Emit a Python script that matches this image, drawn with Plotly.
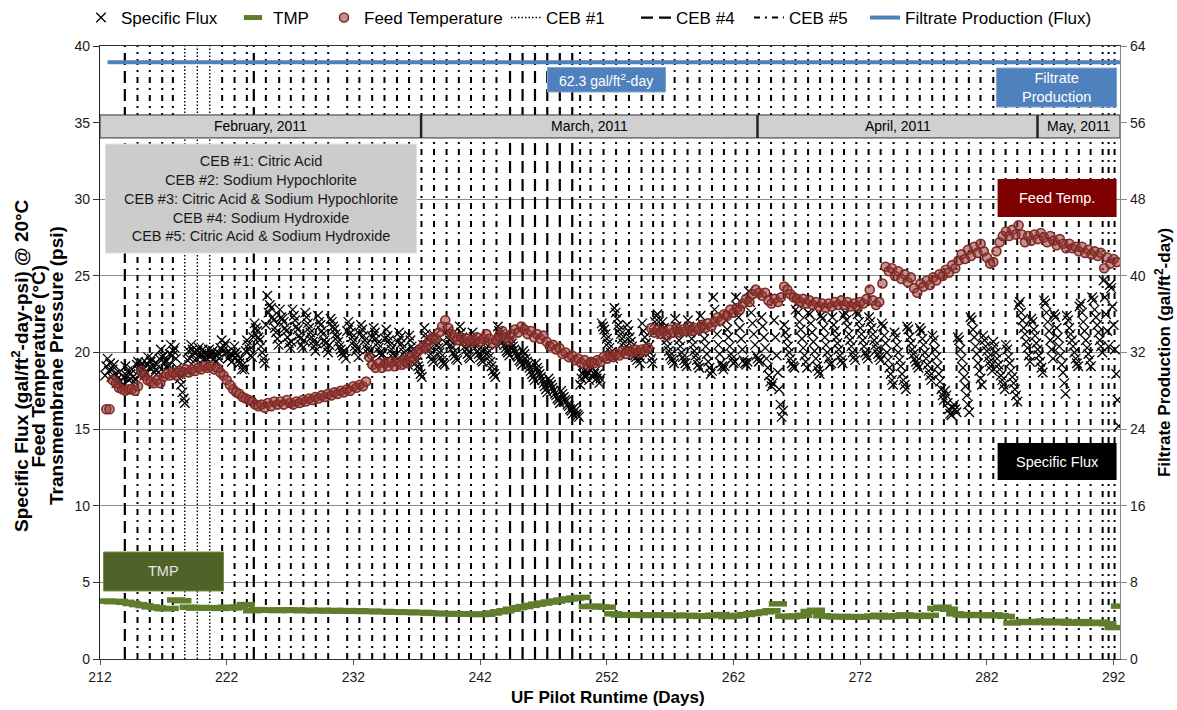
import numpy as np
import plotly.graph_objects as go

FONT = "Liberation Sans, Arial, sans-serif"

# ---------------- data ----------------
# Specific flux (gal/ft2-day-psi @ 20 C), one reading every 0.1 day from day 212.4
flux_start, flux_step = 212.4, 0.1
specific_flux = [
    18.5, 19.1, 19.6, 18.8, 19.3, 18.4, 18.9, 19.2, 18.6, 18.0,
    18.3, 18.7, 18.1, 17.8, 17.9, 18.4, 19.1, 18.5, 18.8, 18.2,
    18.6, 18.9, 18.4, 18.1, 18.3, 19.2, 19.4, 18.8, 19.1, 19.3,
    18.9, 18.5, 18.7, 19.3, 19.7, 19.0, 19.4, 19.6, 19.1, 18.7,
    18.9, 19.2, 18.7, 19.6, 20.2, 19.7, 19.8, 19.3, 19.5, 19.0,
    19.2, 19.9, 20.5, 19.8, 20.1, 20.3, 19.6, 19.0, 18.6, 18.3,
    17.9, 17.4, 17.0, 16.7, 18.8, 19.5, 20.1, 19.6, 20.5, 20.2,
    20.0, 19.5, 19.6, 20.1, 20.3, 19.7, 19.9, 20.2, 19.6, 19.9,
    19.6, 19.9, 20.2, 19.7, 19.9, 20.1, 19.6, 19.4, 19.8, 20.0,
    19.6, 20.3, 20.8, 20.1, 20.4, 20.6, 20.0, 19.6, 19.7, 19.9,
    19.4, 19.8, 20.4, 20.0, 19.8, 19.5, 19.3, 19.6, 18.9, 19.2,
    18.9, 20.1, 20.8, 20.5, 20.2, 19.8, 19.7, 21.0, 21.9, 21.6,
    21.4, 21.0, 20.8, 20.4, 20.0, 19.6, 19.3, 21.8, 23.7, 22.6,
    23.1, 22.9, 22.3, 22.1, 21.6, 21.3, 20.9, 20.5, 22.8, 22.3,
    22.2, 22.0, 21.6, 21.4, 21.0, 20.6, 20.3, 20.7, 22.8, 22.4,
    22.1, 21.7, 21.5, 21.1, 20.9, 20.5, 20.3, 20.8, 22.6, 22.3,
    21.9, 21.6, 21.3, 21.0, 20.7, 20.4, 20.1, 20.6, 22.4, 22.0,
    21.8, 21.4, 21.2, 20.8, 20.6, 20.3, 20.0, 20.5, 22.2, 22.0,
    21.7, 21.5, 21.2, 21.0, 20.7, 20.4, 20.2, 20.0, 19.8, 20.1,
    19.6, 21.4, 22.0, 21.7, 21.3, 21.0, 20.7, 20.4, 20.1, 20.3,
    19.7, 21.2, 21.8, 21.5, 21.1, 20.8, 20.5, 20.2, 19.9, 20.1,
    19.5, 21.0, 21.6, 21.3, 20.9, 20.6, 20.3, 20.0, 19.8, 19.9,
    19.4, 20.9, 21.5, 21.1, 20.8, 20.5, 20.2, 19.9, 19.6, 19.8,
    19.3, 20.7, 21.3, 21.0, 20.6, 20.3, 20.0, 19.7, 19.4, 19.2,
    21.1, 20.8, 20.4, 20.2, 19.9, 19.6, 19.4, 19.1, 18.9, 18.6,
    18.4, 20.5, 21.6, 21.2, 20.9, 20.5, 20.2, 19.9, 19.6, 19.4,
    21.1, 20.8, 20.5, 20.3, 20.0, 19.7, 19.5, 19.3, 19.2, 20.6,
    21.4, 21.1, 20.8, 20.5, 20.3, 20.0, 19.8, 19.6, 19.5, 20.9,
    21.7, 21.3, 21.0, 20.7, 20.4, 20.2, 19.9, 19.7, 19.6, 20.6,
    21.3, 21.0, 20.7, 20.4, 20.1, 19.9, 19.7, 19.5, 19.4, 20.1,
    20.6, 20.3, 20.0, 19.7, 19.4, 19.1, 18.8, 18.6, 18.4, 20.5,
    21.7, 21.4, 21.2, 20.9, 20.7, 20.5, 20.3, 20.1, 20.0, 19.8,
    20.9, 20.6, 20.4, 20.2, 20.0, 19.8, 19.7, 19.5, 19.4, 19.2,
    20.1, 19.9, 19.6, 19.4, 19.2, 19.0, 18.8, 18.6, 18.4, 18.2,
    19.3, 19.0, 18.8, 18.6, 18.4, 18.2, 18.0, 17.8, 17.6, 17.4,
    18.3, 18.1, 17.9, 17.7, 17.5, 17.3, 17.2, 17.0, 16.9, 16.7,
    17.5, 17.3, 17.1, 16.9, 16.8, 16.6, 16.5, 16.3, 16.2, 16.0,
    16.4, 16.2, 16.0, 15.9, 15.8, 17.9, 18.3, 18.6, 18.8, 18.4,
    18.5, 18.7, 18.2, 18.9, 19.0, 18.4, 18.6, 18.8, 18.3, 18.6,
    18.0, 18.3, 21.9, 21.7, 21.5, 21.2, 20.9, 20.6, 20.3, 20.0,
    19.8, 19.6, 22.9, 22.6, 22.2, 21.8, 21.5, 21.2, 20.9, 20.6,
    20.3, 20.0, 21.8, 21.4, 21.0, 20.7, 20.4, 20.1, 19.8, 19.7,
    19.5, 19.8, 19.3, 19.6, 21.9, 21.4, 21.0, 20.6, 20.2, 20.4,
    20.0, 19.6, 19.3, 21.3, 22.0, 22.4, 22.5, 22.0, 21.6, 21.2,
    22.0, 21.6, 21.2, 20.8, 20.4, 20.1, 19.8, 19.6, 19.5, 19.3,
    22.2, 21.7, 21.3, 20.8, 20.4, 20.0, 19.7, 19.5, 19.3, 19.1,
    22.1, 21.7, 21.3, 20.9, 20.5, 20.1, 19.8, 19.5, 19.2, 19.0,
    22.4, 21.9, 21.4, 20.9, 20.4, 19.9, 19.4, 19.0, 18.6, 18.8,
    23.6, 22.8, 22.0, 21.2, 20.5, 19.9, 19.3, 19.1, 18.9, 19.1,
    22.1, 21.5, 21.0, 20.4, 19.9, 19.6, 19.3, 19.4, 23.6, 23.0,
    22.3, 21.6, 20.9, 20.2, 19.5, 19.3, 19.2, 19.4, 24.0, 23.3,
    22.6, 21.9, 21.2, 20.5, 19.8, 19.6, 19.4, 19.5, 22.3, 21.7,
    21.0, 20.3, 19.6, 19.0, 18.5, 18.1, 17.8, 18.0, 22.1, 21.0,
    19.8, 18.7, 17.6, 16.6, 15.8, 16.2, 21.8, 21.3, 20.9, 20.4,
    20.0, 19.6, 19.3, 19.1, 19.0, 22.8, 23.2, 22.6, 22.0, 21.5,
    20.9, 20.3, 19.8, 19.4, 19.0, 22.6, 22.5, 21.9, 21.3, 20.7,
    20.1, 19.6, 19.1, 18.8, 18.6, 22.4, 22.2, 21.6, 21.0, 20.5,
    20.0, 19.6, 19.2, 19.3, 22.3, 21.8, 21.4, 21.0, 20.6, 20.2,
    19.8, 19.5, 19.3, 22.4, 22.6, 22.1, 21.7, 21.2, 20.8, 20.4,
    20.0, 19.7, 19.5, 22.7, 22.5, 22.0, 21.6, 21.2, 20.8, 20.4,
    20.0, 19.8, 19.6, 22.3, 22.0, 21.6, 21.2, 20.8, 20.5, 20.2,
    19.9, 19.7, 19.5, 21.9, 21.7, 21.1, 20.6, 20.0, 19.5, 19.0,
    18.6, 18.2, 17.9, 21.3, 21.0, 20.5, 20.0, 19.5, 19.1, 18.6,
    18.2, 17.9, 17.6, 21.7, 21.5, 21.0, 20.6, 20.2, 19.9, 19.6,
    19.4, 19.2, 19.0, 21.6, 21.4, 20.9, 20.5, 20.0, 19.6, 19.2,
    18.8, 18.5, 18.2, 21.1, 20.8, 20.2, 19.7, 19.1, 18.6, 18.1,
    17.6, 17.2, 16.9, 17.5, 17.2, 16.7, 16.3, 16.0, 15.9, 16.4,
    16.6, 16.3, 16.1, 21.0, 20.8, 20.2, 19.6, 19.0, 18.4, 17.8,
    17.2, 16.6, 16.1, 22.3, 22.1, 21.5, 21.0, 20.4, 19.9, 19.3,
    18.8, 18.3, 17.9, 21.1, 20.8, 20.4, 20.1, 19.7, 19.4, 19.1,
    18.8, 20.7, 20.4, 20.0, 19.6, 19.2, 18.9, 18.5, 18.2, 17.9,
    17.6, 20.5, 20.2, 19.7, 19.3, 18.8, 18.4, 18.0, 17.6, 17.2,
    16.8, 23.1, 23.3, 22.6, 22.1, 21.6, 21.2, 20.7, 20.3, 19.8,
    19.4, 22.2, 22.0, 21.5, 21.1, 20.6, 20.2, 19.8, 19.4, 19.0,
    18.7, 23.4, 23.2, 22.6, 22.0, 21.4, 20.8, 20.2, 19.6, 22.5,
    22.3, 21.6, 21.0, 20.4, 19.8, 19.2, 18.7, 18.0, 17.3, 22.4,
    22.1, 21.6, 21.2, 20.8, 20.4, 20.0, 19.6, 19.3, 19.1, 23.0,
    23.2, 22.6, 22.0, 21.4, 20.8, 20.3, 19.9, 19.5, 19.1, 23.6,
    23.4, 22.8, 22.3, 21.8, 21.3, 20.8, 20.4, 20.0, 24.7, 23.6,
    22.5, 21.4, 20.4, 24.4, 24.2, 23.0, 21.8, 20.2, 18.6, 16.9,
    15.2,
]

# Feed temperature (deg C), one reading every 0.25 day from day 212.5
temp_start, temp_step = 212.5, 0.25
feed_temp = [
    16.3, 16.3, 18.2, 18.0,  17.7, 17.6, 17.5, 17.6,  17.6, 17.5, 17.8, 18.8,
    18.5, 18.2, 18.1, 18.0,  18.2, 18.0, 18.4, 18.6,  18.5, 18.7, 18.5, 18.8,
    18.7, 18.9, 18.7, 18.9,  18.8, 19.0, 18.9, 19.1,  19.0, 19.1, 18.9, 19.0,
    18.7, 18.5, 18.2, 17.9,  17.6, 17.4, 17.3, 17.1,  17.0, 16.9, 16.8, 16.6,
    16.5, 16.6, 16.4, 16.7,  16.5, 16.8, 16.6, 16.8,  16.6, 16.9, 16.7, 16.6,
    16.8, 16.7, 16.9, 16.8,  17.0, 16.9, 17.1, 17.0,  17.2, 17.1, 17.3, 17.2,
    17.4, 17.3, 17.5, 17.4,  17.6, 17.5, 17.8, 17.7,  17.9, 17.8, 18.1, 19.7,
    19.2, 19.0, 19.3, 19.0,  19.3, 19.1, 19.4, 19.1,  19.4, 19.2, 19.5, 19.3,
    19.7, 19.6, 20.0, 20.2,  20.4, 20.3, 20.8, 21.0,  20.9, 21.3, 21.7, 22.1,
    21.6, 21.2, 21.0, 20.8,  21.0, 20.7, 20.9, 20.6,  20.8, 21.0, 20.7, 20.9,
    21.2, 20.9, 20.6, 20.8,  21.1, 21.4, 21.0, 20.8,  21.2, 21.5, 21.3, 21.7,
    21.5, 21.2, 21.4, 21.0,  21.2, 20.9, 21.1, 20.7,  20.4, 20.5, 20.2, 20.3,
    19.9, 20.0, 19.7, 19.8,  19.5, 19.6, 19.3, 19.5,  19.2, 19.4, 19.3, 19.5,
    19.4, 19.7, 19.6, 19.8,  19.7, 19.9, 19.8, 20.1,  19.9, 20.1, 20.0, 20.2,
    20.0, 20.2, 20.1, 20.3,  21.6, 21.3, 21.5, 21.2,  21.4, 21.1, 21.5, 21.3,
    21.6, 21.3, 21.5, 21.4,  21.7, 21.4, 21.6, 21.5,  21.8, 21.6, 21.9, 21.7,
    22.0, 22.3, 22.1, 22.5,  22.4, 22.8, 22.6, 22.9,  22.8, 23.2, 23.5, 23.3,
    23.8, 24.1, 23.9, 23.7,  23.9, 23.4, 23.2, 23.5,  23.3, 23.6, 24.3, 24.1,
    23.8, 23.6, 23.5, 23.3,  23.5, 23.2, 23.4, 23.1,  23.3, 23.0, 23.2, 22.9,
    23.2, 23.0, 23.3, 23.1,  23.4, 23.1, 23.3, 23.0,  23.2, 23.0, 23.3, 23.2,
    23.5, 24.1, 23.4, 23.1,  23.3, 24.5, 25.6, 25.3,  25.5, 25.0, 25.3, 24.8,
    25.1, 24.6, 24.9, 24.2,  23.9, 24.5, 24.3, 24.7,  24.4, 24.9, 24.7, 25.1,
    25.0, 25.4, 25.2, 25.7,  25.5, 26.0, 26.4, 26.1,  26.7, 26.3, 26.9, 26.5,
    27.1, 26.6, 26.2, 25.8,  25.9, 26.6, 27.2, 27.6,  27.9, 27.6, 28.0, 27.7,
    28.3, 27.7, 27.2, 27.6,  27.3, 27.7, 27.4, 27.8,  27.5, 27.2, 27.6, 27.3,
    27.0, 27.4, 27.1, 26.8,  27.1, 26.8, 26.9, 26.6,  26.9, 26.5, 26.7, 26.4,
    26.6, 26.3, 26.5, 25.5,  26.2, 25.8, 26.1, 25.9,
]

# Transmembrane pressure (psi), one reading every 0.5 day from day 212.5
tmp_start, tmp_step = 212.5, 0.5
tmp_psi = [
    3.78, 3.74, 3.76, 3.70, 3.62, 3.55, 3.48, 3.40, 3.34, 3.28,
    3.30, 3.85, 3.80, 3.38, 3.32, 3.36, 3.31, 3.35, 3.30, 3.38,
    3.33, 3.40, 3.55, 3.15, 3.22, 3.18, 3.20, 3.16, 3.21, 3.17,
    3.20, 3.15, 3.19, 3.14, 3.18, 3.13, 3.17, 3.12, 3.16, 3.11,
    3.15, 3.10, 3.12, 3.08, 3.10, 3.06, 3.08, 3.04, 3.06, 3.02,
    3.04, 3.00, 2.98, 2.95, 2.97, 2.93, 2.95, 2.92, 2.94, 2.90,
    2.92, 3.00, 3.08, 3.15, 3.25, 3.35, 3.42, 3.50, 3.58, 3.65,
    3.72, 3.78, 3.85, 3.92, 3.98, 4.02, 3.42, 3.45, 3.40, 3.38,
    2.95, 2.88, 2.85, 2.90, 2.86, 2.84, 2.88, 2.85, 2.87, 2.83,
    2.86, 2.82, 2.85, 2.80, 2.78, 2.82, 2.86, 2.90, 2.76, 2.80,
    2.85, 2.90, 2.96, 3.02, 3.08, 3.15, 3.60, 2.80, 2.75, 2.80,
    2.85, 3.10, 3.18, 2.82, 2.78, 2.75, 2.78, 2.74, 2.77, 2.73,
    2.76, 2.80, 2.85, 2.74, 2.78, 2.82, 2.88, 2.80, 2.84, 2.78,
    2.85, 3.30, 3.38, 3.25, 2.95, 2.88, 2.84, 2.90, 2.86, 2.82,
    2.88, 2.84, 2.78, 2.35, 2.40, 2.45, 2.38, 2.42, 2.48, 2.36,
    2.40, 2.46, 2.34, 2.38, 2.44, 2.32, 2.36, 2.40, 2.30, 2.05,
    3.45,
]

# Filtrate production set point (gal/ft2-day), right axis
filtrate_flux = 62.3
filtrate_days = [212.6, 292.5]

# Chemically enhanced backwash events (runtime day)
ceb1_days = [218.69, 219.68, 220.66]
ceb4_days = [213.96, 224.14, 244.36, 245.35, 246.33, 247.30, 248.29, 249.27]
ceb5_days = [
    214.96, 215.93, 216.91, 217.75, 221.64, 222.62, 223.59, 225.09, 226.14,
    227.06, 228.05, 229.03, 230.01, 231.51, 232.47, 233.48, 234.45, 235.44,
    236.39, 237.37, 238.36, 239.35, 240.32, 241.28, 242.29, 243.29, 249.89,
    250.71, 251.74, 252.73, 253.75, 254.74, 255.65, 256.40, 257.35, 258.37,
    259.32, 260.30, 261.24, 262.16, 263.08, 264.00, 264.96, 265.95, 266.89,
    267.88, 268.83, 269.78, 270.72, 271.69, 272.66, 273.61, 274.63, 275.71,
    276.70, 277.68, 278.60, 279.60, 280.57, 281.49, 282.50, 283.47, 284.39,
    285.39, 286.37, 287.28, 288.29, 289.25, 290.18, 291.13, 291.60, 292.07,
]

# Calendar months along the runtime axis
month_names = ["February, 2011", "March, 2011", "April, 2011", "May, 2011"]
month_edges = [212.0, 237.34, 263.89, 285.99, 292.5]

ceb_notes = [
    "CEB #1: Citric Acid",
    "CEB #2: Sodium Hypochlorite",
    "CEB #3: Citric Acid & Sodium Hypochlorite",
    "CEB #4: Sodium Hydroxide",
    "CEB #5: Citric Acid & Sodium Hydroxide",
]

X_RANGE = [212, 292.5]
Y_RANGE = [0, 40]
Y2_RANGE = [0, 64]

# ---------------- figure ----------------
flux_days = flux_start + flux_step * np.arange(len(specific_flux))
temp_days = temp_start + temp_step * np.arange(len(feed_temp))
tmp_days = tmp_start + tmp_step * np.arange(len(tmp_psi))


def event_lines(days):
    xs, ys = [], []
    for d in days:
        xs += [d, d, None]
        ys += [Y_RANGE[0], Y_RANGE[1], None]
    return xs, ys


fig = go.Figure()

x1, y1 = event_lines(ceb1_days)
fig.add_trace(go.Scatter(x=x1, y=y1, mode="lines", name="CEB #1", legend="legend4",
                         line=dict(color="black", width=1.4, dash="1.5px,2px"),
                         hoverinfo="skip"))
x4, y4 = event_lines(ceb4_days)
fig.add_trace(go.Scatter(x=x4, y=y4, mode="lines", name="CEB #4", legend="legend5",
                         line=dict(color="black", width=2.2, dash="12px,6px"),
                         hoverinfo="skip"))
x5, y5 = event_lines(ceb5_days)
fig.add_trace(go.Scatter(x=x5, y=y5, mode="lines", name="CEB #5", legend="legend6",
                         line=dict(color="black", width=2, dash="6px,5px,2px,5px"),
                         hoverinfo="skip"))

fig.add_trace(go.Scatter(x=flux_days, y=specific_flux, mode="markers",
                         name="Specific Flux", legend="legend",
                         marker=dict(symbol="x-thin", size=9.5, color="black",
                                     line=dict(color="black", width=1.3))))
fig.add_trace(go.Scatter(x=tmp_days, y=tmp_psi, mode="markers", name="TMP",
                         legend="legend2",
                         marker=dict(symbol="line-ew", size=13, color="#5f7d2d",
                                     line=dict(color="#5f7d2d", width=5.5))))
fig.add_trace(go.Scatter(x=temp_days, y=feed_temp, mode="markers",
                         name="Feed Temperature", legend="legend3",
                         marker=dict(symbol="circle", size=9,
                                     color="rgba(150,58,52,0.55)",
                                     line=dict(color="#7f2a26", width=1.6))))
fig.add_trace(go.Scatter(x=filtrate_days, y=[filtrate_flux] * len(filtrate_days),
                         mode="lines", name="Filtrate Production (Flux)",
                         legend="legend7", yaxis="y2",
                         line=dict(color="#4f81bd", width=4)))

# ---------------- boxes and labels ----------------
shapes = []
annotations = []


def box(x0, x1, y0, y1, fill, line_color=None, line_width=0):
    shapes.append(dict(type="rect", xref="x", yref="y", x0=x0, x1=x1, y0=y0, y1=y1,
                       fillcolor=fill, layer="above",
                       line=dict(color=line_color or fill, width=line_width)))


def label(x, y, text, color="white", size=14.5):
    annotations.append(dict(x=x, y=y, xref="x", yref="y", text=text, showarrow=False,
                            font=dict(family=FONT, size=size, color=color),
                            xanchor="center", yanchor="middle", align="center"))


# month band
band_lo, band_hi = 34.0, 35.5
box(month_edges[0], month_edges[-1], band_lo, band_hi, "#d0d0d0", "#333333", 1)
for i, name in enumerate(month_names):
    a, b = month_edges[i], month_edges[i + 1]
    label((a + b) / 2, (band_lo + band_hi) / 2, name, color="black", size=14)
    if i > 0:
        shapes.append(dict(type="line", xref="x", yref="y", x0=a, x1=a, y0=band_lo,
                           y1=band_hi, layer="above", line=dict(color="#222", width=2.5)))

# filtrate flux value tag
box(247.32, 256.63, 37.0, 38.6, "#4f81bd", "#7fa3d0", 1)
label(251.97, 37.8, f"{filtrate_flux} gal/ft<sup>2</sup>-day", size=14)

# series tags
box(282.76, 292.23, 36.02, 38.56, "#4f81bd", "#7fa3d0", 1)
label(287.5, 37.29, "Filtrate<br>Production")
box(282.84, 292.23, 28.84, 31.32, "#7f0000")
label(287.53, 30.08, "Feed Temp.")
box(282.84, 292.23, 11.68, 14.09, "black")
label(287.53, 12.88, "Specific Flux")
box(212.28, 221.75, 4.44, 6.98, "#4f6228", "#76923c", 1)
label(217.0, 5.71, "TMP", color="#e6e6e6")

# CEB chemistry key
box(212.43, 236.98, 26.49, 33.6, "#cccccc", "#e0e0e0", 1)
label(224.7, 30.05, "<br>".join(ceb_notes), color="#1a1a1a", size=14.5)

# axis titles
title_font = dict(family=FONT, size=17, color="black")
left_font = dict(family=FONT, size=19, color="black")
left_titles = [
    "<b>Specific Flux (gal/ft<sup>2</sup>-day-psi) @ 20°C</b>",
    "<b>Feed Temperature (°C)</b>",
    "<b>Transmembrane Pressure (psi)</b>",
]
for px, t in zip([20, 38.5, 57], left_titles):
    annotations.append(dict(x=(px - 100) / 1020, y=0.478, xref="paper", yref="paper",
                            text=t, textangle=-90, showarrow=False, font=left_font,
                            xanchor="center", yanchor="middle"))
annotations.append(dict(x=(1163 - 100) / 1020, y=0.499, xref="paper", yref="paper",
                        text="<b>Filtrate Production (gal/ft<sup>2</sup>-day)</b>",
                        textangle=-90, showarrow=False, font=title_font,
                        xanchor="center", yanchor="middle"))
annotations.append(dict(x=0.498, y=-0.062, xref="paper", yref="paper",
                        text="<b>UF Pilot Runtime (Days)</b>", showarrow=False,
                        font=title_font, xanchor="center", yanchor="middle"))

# ---------------- legends (one per entry, placed along the top) ----------------
legend_text_px = {
    "legend": 121, "legend2": 273, "legend3": 364, "legend4": 546,
    "legend5": 676, "legend6": 789, "legend7": 905,
}
legend_layout = {}
for key, px in legend_text_px.items():
    legend_layout[key] = dict(
        x=(px - 40 - 100) / 1020, xanchor="left", y=1 + 28 / 613, yanchor="middle",
        orientation="h", bgcolor="rgba(0,0,0,0)", borderwidth=0,
        font=dict(family=FONT, size=17, color="black"),
    )

tick_font = dict(family=FONT, size=14, color="#1a1a1a")
fig.update_layout(
    width=1177, height=710,
    margin=dict(l=100, r=57, t=46, b=51, autoexpand=False),
    paper_bgcolor="white", plot_bgcolor="white",
    font=dict(family=FONT),
    showlegend=True,
    xaxis=dict(range=X_RANGE, tick0=212, dtick=10, ticks="outside", ticklen=5,
               tickcolor="#555", tickfont=tick_font, showline=True, linecolor="#333",
               linewidth=1.2, mirror=True, showgrid=False, zeroline=False),
    yaxis=dict(range=Y_RANGE, dtick=5, ticks="outside", ticklen=6, tickcolor="#333",
               tickfont=tick_font, showline=True, linecolor="#222", linewidth=1.2,
               showgrid=True, gridcolor="#8c8c8c", gridwidth=1.3, zeroline=False),
    yaxis2=dict(range=Y2_RANGE, dtick=8, overlaying="y", side="right", ticks="outside",
                ticklen=6, tickcolor="#888", tickfont=tick_font, showline=True,
                linecolor="#888", linewidth=1.2, showgrid=False, zeroline=False),
    shapes=shapes,
    annotations=annotations,
    **legend_layout,
)

fig.write_html("out.html")
